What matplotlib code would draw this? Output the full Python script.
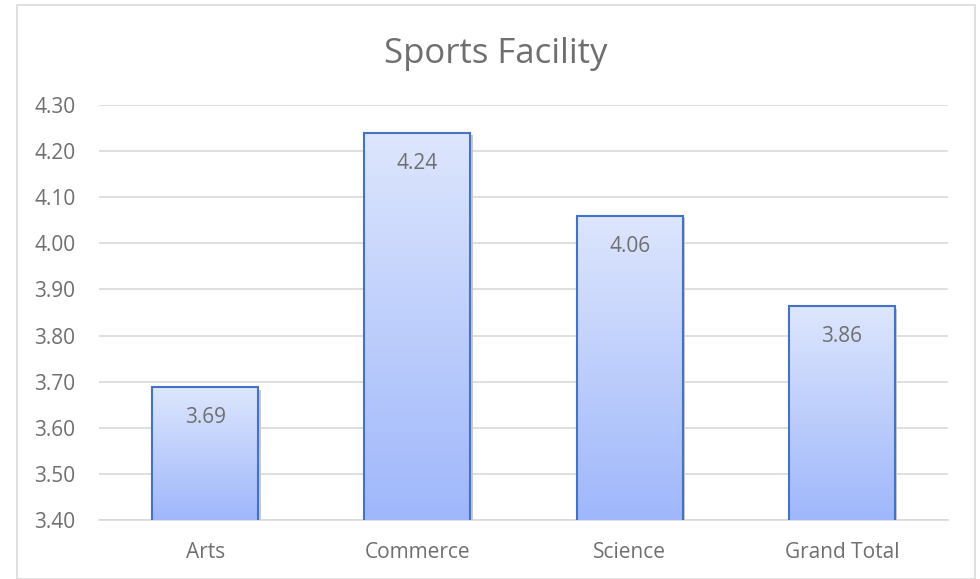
import matplotlib
matplotlib.use("Agg")
import matplotlib.pyplot as plt
import numpy as np
from matplotlib.patches import Rectangle

categories = ["Arts", "Commerce", "Science", "Grand Total"]
values = [3.688, 4.24, 4.06, 3.864]
labels = ["3.69", "4.24", "4.06", "3.86"]
yticks = [3.40, 3.50, 3.60, 3.70, 3.80, 3.90, 4.00, 4.10, 4.20, 4.30]

plt.rcParams['font.family'] = ['Open Sans', 'DejaVu Sans']
W, H = 980, 579
TXT = '#6f6f6f'
fig = plt.figure(figsize=(9.8, 5.79), dpi=100)
fig.patches.append(Rectangle((17 / W, 0), (975 - 17) / W, (579 - 5) / H, transform=fig.transFigure,
                             fill=False, edgecolor='#d9d9d9', linewidth=1.2))
ax = fig.add_axes([99 / W, 1 - 520 / H, (948 - 99) / W, (520 - 105) / H])

x = np.arange(len(categories))
ax.set_xlim(-0.5, len(categories) - 0.5)
ax.set_ylim(3.40, 4.30)

grad = np.linspace(0, 1, 256).reshape(-1, 1)
top = np.array([0xdd, 0xe6, 0xfd]) / 255
bot = np.array([0x9f, 0xb7, 0xfb]) / 255
img = (bot[None, None, :] * (1 - grad[..., None]) + top[None, None, :] * grad[..., None])

bars = ax.bar(x, values, width=0.5, bottom=0, color='none', edgecolor='#4472c4', linewidth=1.5, zorder=3)
for b in bars:
    x0 = b.get_x(); w = b.get_width(); h = b.get_height()
    ax.add_patch(Rectangle((x0 + 0.012, 3.40), w, h - 3.40 - 0.006, facecolor='#c8c8c8', edgecolor='none', zorder=1.5))
    im = ax.imshow(img, extent=(x0, x0 + w, 3.40, h), origin='lower', aspect='auto', zorder=2)
    clip = Rectangle((x0, 3.40), w, h - 3.40, transform=ax.transData)
    im.set_clip_path(clip)
for xi, v, lab in zip(x, values, labels):
    ax.annotate(lab, (xi, v), xytext=(0, -22), textcoords='offset points', ha='center', va='center',
                fontsize=15, color=TXT, zorder=4)

ax.set_xlim(-0.5, len(categories) - 0.5)
ax.set_ylim(3.40, 4.30)
ax.set_yticks(yticks)
ax.set_yticklabels([f"{t:.2f}" for t in yticks])
ax.set_xticks(x)
ax.set_xticklabels(categories)
ax.tick_params(axis='both', length=0, labelsize=15, labelcolor=TXT)
ax.tick_params(axis='y', pad=17)
ax.tick_params(axis='x', pad=16)
ax.grid(axis='y', color='#d9d9d9', linewidth=1.2, zorder=0)
ax.set_axisbelow(True)
for s in ['top', 'right', 'left']:
    ax.spines[s].set_visible(False)
ax.spines['bottom'].set_color('#d9d9d9')
ax.spines['bottom'].set_linewidth(1.2)
ax.spines['bottom'].set_zorder(1)

fig.text(0.5 * (17 + 975) / W, 1 - 54 / H, "Sports Facility", ha='center', va='center', fontsize=25, color=TXT)

fig.savefig("out.png", dpi=100)
